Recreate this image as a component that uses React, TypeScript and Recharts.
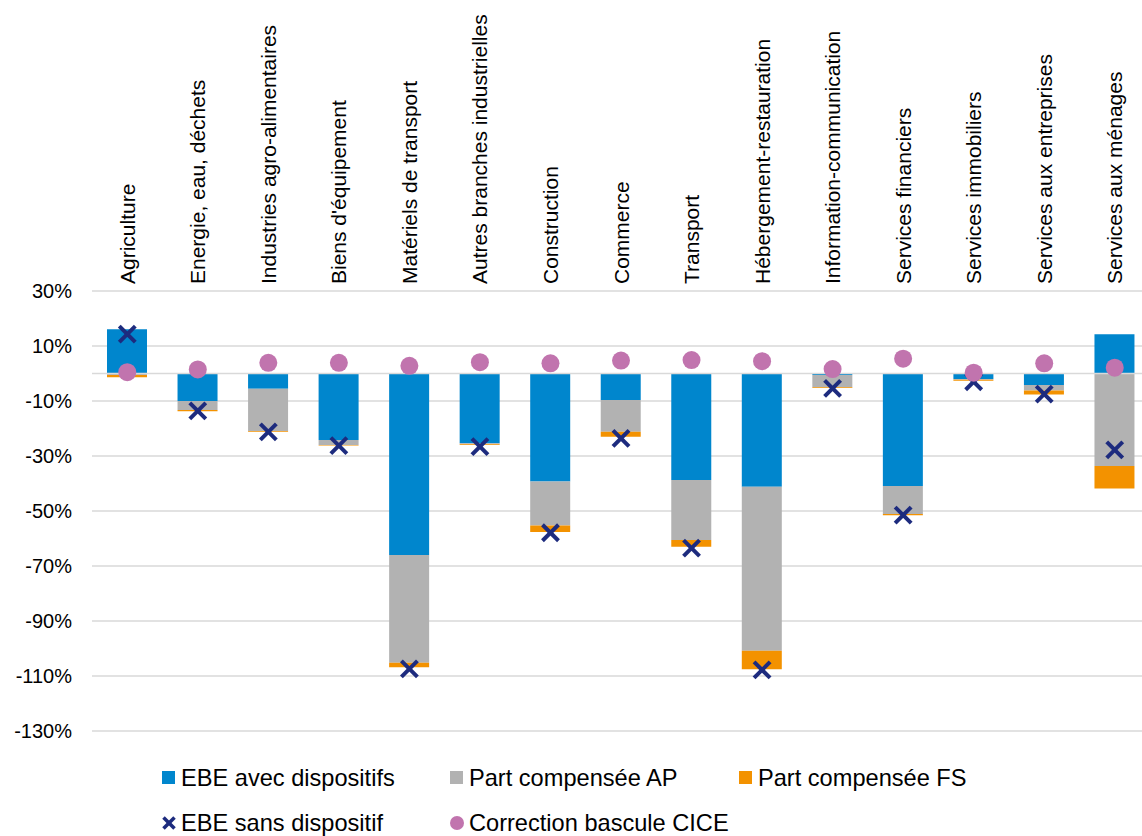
import React from "react";
import {
  ComposedChart,
  Bar,
  Scatter,
  XAxis,
  YAxis,
  CartesianGrid,
  ReferenceLine,
  Legend,
} from "recharts";

const categories = [
  "Agriculture",
  "Energie, eau, déchets",
  "Industries agro-alimentaires",
  "Biens d'équipement",
  "Matériels de transport",
  "Autres branches industrielles",
  "Construction",
  "Commerce",
  "Transport",
  "Hébergement-restauration",
  "Information-communication",
  "Services financiers",
  "Services immobiliers",
  "Services aux entreprises",
  "Services aux ménages",
];

const ebeAvec = [16.1, -10.0, -5.5, -24.2, -66.0, -25.4, -39.3, -9.6, -38.7, -41.2, -0.5, -40.9, -2.0, -4.2, 14.3];
const partAP = [-0.5, -3.3, -15.4, -1.8, -39.2, -0.3, -16.0, -11.6, -21.8, -59.6, -4.5, -10.2, -0.3, -2.0, -33.6];
const partFS = [-0.9, -0.4, -0.3, -0.2, -1.6, -0.3, -2.3, -1.8, -2.5, -6.7, -0.3, -0.4, -0.3, -1.4, -8.2];
const ebeSans = [14.3, -13.6, -21.2, -26.2, -107.4, -26.6, -57.9, -23.6, -63.5, -107.8, -5.4, -51.5, -3.0, -7.5, -27.8];
const correctionCICE = [0.5, 1.5, 3.9, 3.9, 2.8, 4.1, 3.7, 4.7, 4.9, 4.5, 1.6, 5.4, 0.3, 3.7, 2.1];

const yTicks = [30, 10, -10, -30, -50, -70, -90, -110, -130];

const data = categories.map((name, i) => ({
  name,
  ebeAvec: ebeAvec[i],
  partAP: partAP[i],
  partFS: partFS[i],
  ebeSans: ebeSans[i],
  cice: correctionCICE[i],
}));

const COLORS = {
  ebeAvec: "#0086CD",
  partAP: "#B2B2B2",
  partFS: "#F39200",
  ebeSans: "#1D2B7E",
  cice: "#C174AE",
};

const FONT = "'Liberation Sans', Arial, sans-serif";
const PLOT_TOP = 291;
const XAXIS_H = 30;

const legendItems = [
  { label: "EBE avec dispositifs", kind: "square", color: COLORS.ebeAvec, row: 0, col: 0 },
  { label: "Part compensée AP", kind: "square", color: COLORS.partAP, row: 0, col: 1 },
  { label: "Part compensée FS", kind: "square", color: COLORS.partFS, row: 0, col: 2 },
  { label: "EBE sans dispositif", kind: "cross", color: COLORS.ebeSans, row: 1, col: 0 },
  { label: "Correction bascule CICE", kind: "circle", color: COLORS.cice, row: 1, col: 1 },
];

const colIconLeft = [162, 450, 739];
const rowCenter = [18, 63];

const CategoryTick = (props: any) => {
  const { x, payload } = props;
  return (
    <text
      x={0}
      y={0}
      transform={`translate(${x},${PLOT_TOP - 7}) rotate(-90)`}
      dy="0.36em"
      textAnchor="start"
      fontSize={21}
      fontFamily={FONT}
      fill="#000"
    >
      {payload.value}
    </text>
  );
};

const CrossShape = (props: any) => {
  const { cx, cy } = props;
  if (cx == null || cy == null) return null;
  const s = 8;
  return (
    <g>
      <line x1={cx - s} y1={cy - s} x2={cx + s} y2={cy + s} stroke={COLORS.ebeSans} strokeWidth={4} />
      <line x1={cx - s} y1={cy + s} x2={cx + s} y2={cy - s} stroke={COLORS.ebeSans} strokeWidth={4} />
    </g>
  );
};

const CircleShape = (props: any) => {
  const { cx, cy } = props;
  if (cx == null || cy == null) return null;
  return <circle cx={cx} cy={cy} r={9} fill={COLORS.cice} />;
};

const LegendContent = () => (
  <div style={{ position: "relative", width: 1142, height: 80, fontFamily: FONT }}>
    {legendItems.map((it) => {
      const left = colIconLeft[it.col];
      const c = rowCenter[it.row];
      let icon;
      if (it.kind === "square") {
        icon = <rect x={0} y={0} width={13} height={13} fill={it.color} />;
      } else if (it.kind === "cross") {
        icon = (
          <g>
            <line x1={1.5} y1={1.5} x2={12.5} y2={12.5} stroke={it.color} strokeWidth={3.5} />
            <line x1={1.5} y1={12.5} x2={12.5} y2={1.5} stroke={it.color} strokeWidth={3.5} />
          </g>
        );
      } else {
        icon = <circle cx={7} cy={7} r={7} fill={it.color} />;
      }
      return (
        <div key={it.label}>
          <svg width={14} height={14} style={{ position: "absolute", left, top: c - 7 }}>
            {icon}
          </svg>
          <span
            style={{
              position: "absolute",
              left: left + 19,
              top: c - 14,
              lineHeight: "28px",
              fontSize: 23.6,
              color: "#000",
              whiteSpace: "nowrap",
            }}
          >
            {it.label}
          </span>
        </div>
      );
    })}
  </div>
);

export default function App() {
  return (
    <div
      style={{
        position: "fixed",
        left: 0,
        top: 0,
        width: 1142,
        height: 836,
        overflow: "hidden",
        background: "#fff",
      }}
    >
      <ComposedChart
        width={1150}
        height={836}
        data={data}
        stackOffset="sign"
        barSize={40}
        margin={{ top: PLOT_TOP - XAXIS_H, right: 0, bottom: 105, left: 0 }}
      >
        <CartesianGrid vertical={false} stroke="#D9D9D9" strokeWidth={1.5} />
        <XAxis
          dataKey="name"
          orientation="top"
          height={XAXIS_H}
          axisLine={false}
          tickLine={false}
          interval={0}
          tick={<CategoryTick />}
        />
        <YAxis
          type="number"
          domain={[-130, 30]}
          ticks={yTicks}
          width={92}
          axisLine={false}
          tickLine={false}
          tickMargin={14}
          interval={0}
          tickFormatter={(v: number) => `${v}%`}
          tick={{ fontSize: 20, fontFamily: FONT, fill: "#000" }}
        />
        <ReferenceLine y={0} stroke="#D9D9D9" strokeWidth={1.5} />
        <Bar dataKey="ebeAvec" stackId="a" fill={COLORS.ebeAvec} isAnimationActive={false} />
        <Bar dataKey="partAP" stackId="a" fill={COLORS.partAP} isAnimationActive={false} />
        <Bar dataKey="partFS" stackId="a" fill={COLORS.partFS} isAnimationActive={false} />
        <Scatter dataKey="ebeSans" shape={<CrossShape />} isAnimationActive={false} />
        <Scatter dataKey="cice" shape={<CircleShape />} isAnimationActive={false} />
        <Legend
          layout="vertical"
          align="center"
          verticalAlign="middle"
          content={<LegendContent />}
          wrapperStyle={{ position: "absolute", left: 0, top: 760, width: 1142, height: 80 }}
        />
      </ComposedChart>
    </div>
  );
}
